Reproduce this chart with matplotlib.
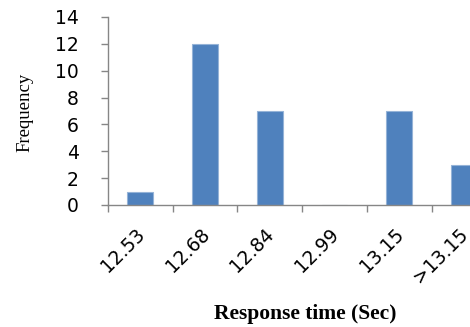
import matplotlib
matplotlib.use('Agg')
import matplotlib.pyplot as plt

categories = ['12.53', '12.68', '12.84', '12.99', '13.15', '>13.15']
frequency = [1, 12, 7, 0, 7, 3]

W, H = 470, 327
fig = plt.figure(figsize=(W / 100, H / 100), dpi=100)
ax = fig.add_axes([108 / W, (H - 205) / H, (470 - 108) / W, (205 - 17) / H])

pos = list(range(len(categories)))
ax.bar(pos, frequency, width=0.4, color='#4F81BD', edgecolor='#95B3D7', linewidth=0.8, zorder=2)

ax.set_ylim(0, 14)
ax.set_yticks(range(0, 15, 2))
ax.set_xlim(-0.5, -0.5 + 362 / 64.7)

# category boundaries carry the tick marks, labels sit under the bars
ax.set_xticks([p - 0.5 for p in pos])
ax.set_xticklabels([])
ax.set_xticks([p - 0.08 for p in pos], minor=True)
ax.set_xticklabels(categories, minor=True, rotation=45, ha='right',
                   rotation_mode='anchor', fontsize=13.5, family='DejaVu Sans')
ax.tick_params(axis='x', which='minor', length=0, pad=14)
ax.tick_params(axis='x', which='major', length=5, color='#868686', width=1)
ax.tick_params(axis='y', length=5, color='#868686', width=1, pad=16, labelsize=13.5)

for s in ['top', 'right']:
    ax.spines[s].set_visible(False)
for s in ['left', 'bottom']:
    ax.spines[s].set_color('#868686')
    ax.spines[s].set_linewidth(1)

fig.text(25 / W, 1 - 112 / H, 'Frequency', rotation=90, ha='center', va='center',
         family='Liberation Serif', fontsize=13.5)
fig.text(305 / W, 1 - 314 / H, 'Response time (Sec)', ha='center', va='center',
         family='Liberation Serif', fontsize=15.5, fontweight='bold')

fig.savefig('out.png', dpi=100)
